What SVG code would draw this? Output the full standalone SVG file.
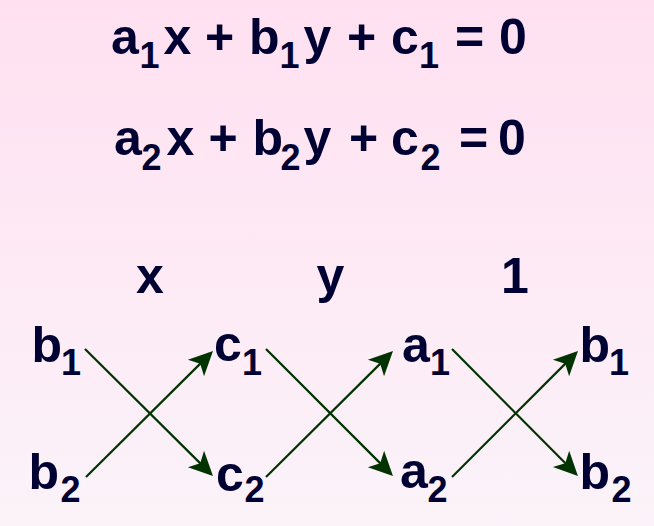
<svg xmlns="http://www.w3.org/2000/svg" width="654" height="526" viewBox="0 0 654 526">
<defs>
<linearGradient id="bg" x1="0" y1="0" x2="0" y2="1">
<stop offset="0" stop-color="#FFE0F0"/>
<stop offset="1" stop-color="#FBF3F9"/>
</linearGradient>
<marker id="ah" markerUnits="userSpaceOnUse" markerWidth="26" markerHeight="26" viewBox="0 -13 26 26" refX="15" refY="0" orient="auto">
<path d="M24,0 L0,-11.5 L6,0 L0,11.5 Z" fill="#003300"/>
</marker>
<style>
.t{font-family:"Liberation Sans",Arial,sans-serif;font-weight:bold;font-size:50px;fill:#000033}
.s{font-size:36px}
.c{stroke:#003300;stroke-width:2.2;fill:none;marker-end:url(#ah)}
</style>
</defs>
<rect width="654" height="526" fill="url(#bg)"/>
<g id="equation1">
<text class="t"><tspan x="111" y="54">a</tspan><tspan class="s" x="139.5" y="68">1</tspan><tspan x="163.5" y="54">x</tspan><tspan x="205" y="54">+</tspan><tspan x="249" y="54">b</tspan><tspan class="s" x="279.5" y="68">1</tspan><tspan x="303.5" y="54">y</tspan><tspan x="347" y="54">+</tspan><tspan x="391" y="54">c</tspan><tspan class="s" x="419" y="68">1</tspan><tspan x="455" y="54">=</tspan><tspan x="499" y="54">0</tspan></text>
</g>
<g id="equation2">
<text class="t"><tspan x="114" y="155">a</tspan><tspan class="s" x="141.5" y="170">2</tspan><tspan x="166.5" y="155">x</tspan><tspan x="208.5" y="155">+</tspan><tspan x="252.5" y="155">b</tspan><tspan class="s" x="280.5" y="170">2</tspan><tspan x="303.5" y="155">y</tspan><tspan x="349" y="155">+</tspan><tspan x="391" y="155">c</tspan><tspan class="s" x="420.5" y="170">2</tspan><tspan x="459" y="155">=</tspan><tspan x="498" y="155">0</tspan></text>
</g>
<g id="headers">
<text class="t" x="136" y="293">x</text>
<text class="t" x="316.5" y="293">y</text>
<text class="t" x="501" y="293">1</text>
</g>
<g id="node-b1-left"><text class="t"><tspan x="31.5" y="362">b</tspan><tspan class="s" x="61" y="375">1</tspan></text></g>
<g id="node-b2-left"><text class="t"><tspan x="28.5" y="489">b</tspan><tspan class="s" x="60.5" y="502">2</tspan></text></g>
<g id="node-c1"><text class="t"><tspan x="214" y="361">c</tspan><tspan class="s" x="242" y="375">1</tspan></text></g>
<g id="node-c2"><text class="t"><tspan x="216" y="491">c</tspan><tspan class="s" x="244.5" y="502">2</tspan></text></g>
<g id="node-a1"><text class="t"><tspan x="402" y="362">a</tspan><tspan class="s" x="430" y="375">1</tspan></text></g>
<g id="node-a2"><text class="t"><tspan x="400" y="488">a</tspan><tspan class="s" x="427.5" y="502">2</tspan></text></g>
<g id="node-b1-right"><text class="t"><tspan x="579.5" y="362">b</tspan><tspan class="s" x="609" y="375">1</tspan></text></g>
<g id="node-b2-right"><text class="t"><tspan x="579.5" y="489">b</tspan><tspan class="s" x="611.5" y="502">2</tspan></text></g>
<g id="connectors">
<line class="c" x1="85" y1="349" x2="206.6" y2="469.6"/>
<line class="c" x1="86" y1="477" x2="206.6" y2="357.4"/>
<line class="c" x1="266" y1="349" x2="386.6" y2="469.6"/>
<line class="c" x1="266" y1="477" x2="386.6" y2="357.4"/>
<line class="c" x1="452" y1="349" x2="571.6" y2="469.6"/>
<line class="c" x1="452" y1="477" x2="571.6" y2="357.4"/>
</g>
</svg>
